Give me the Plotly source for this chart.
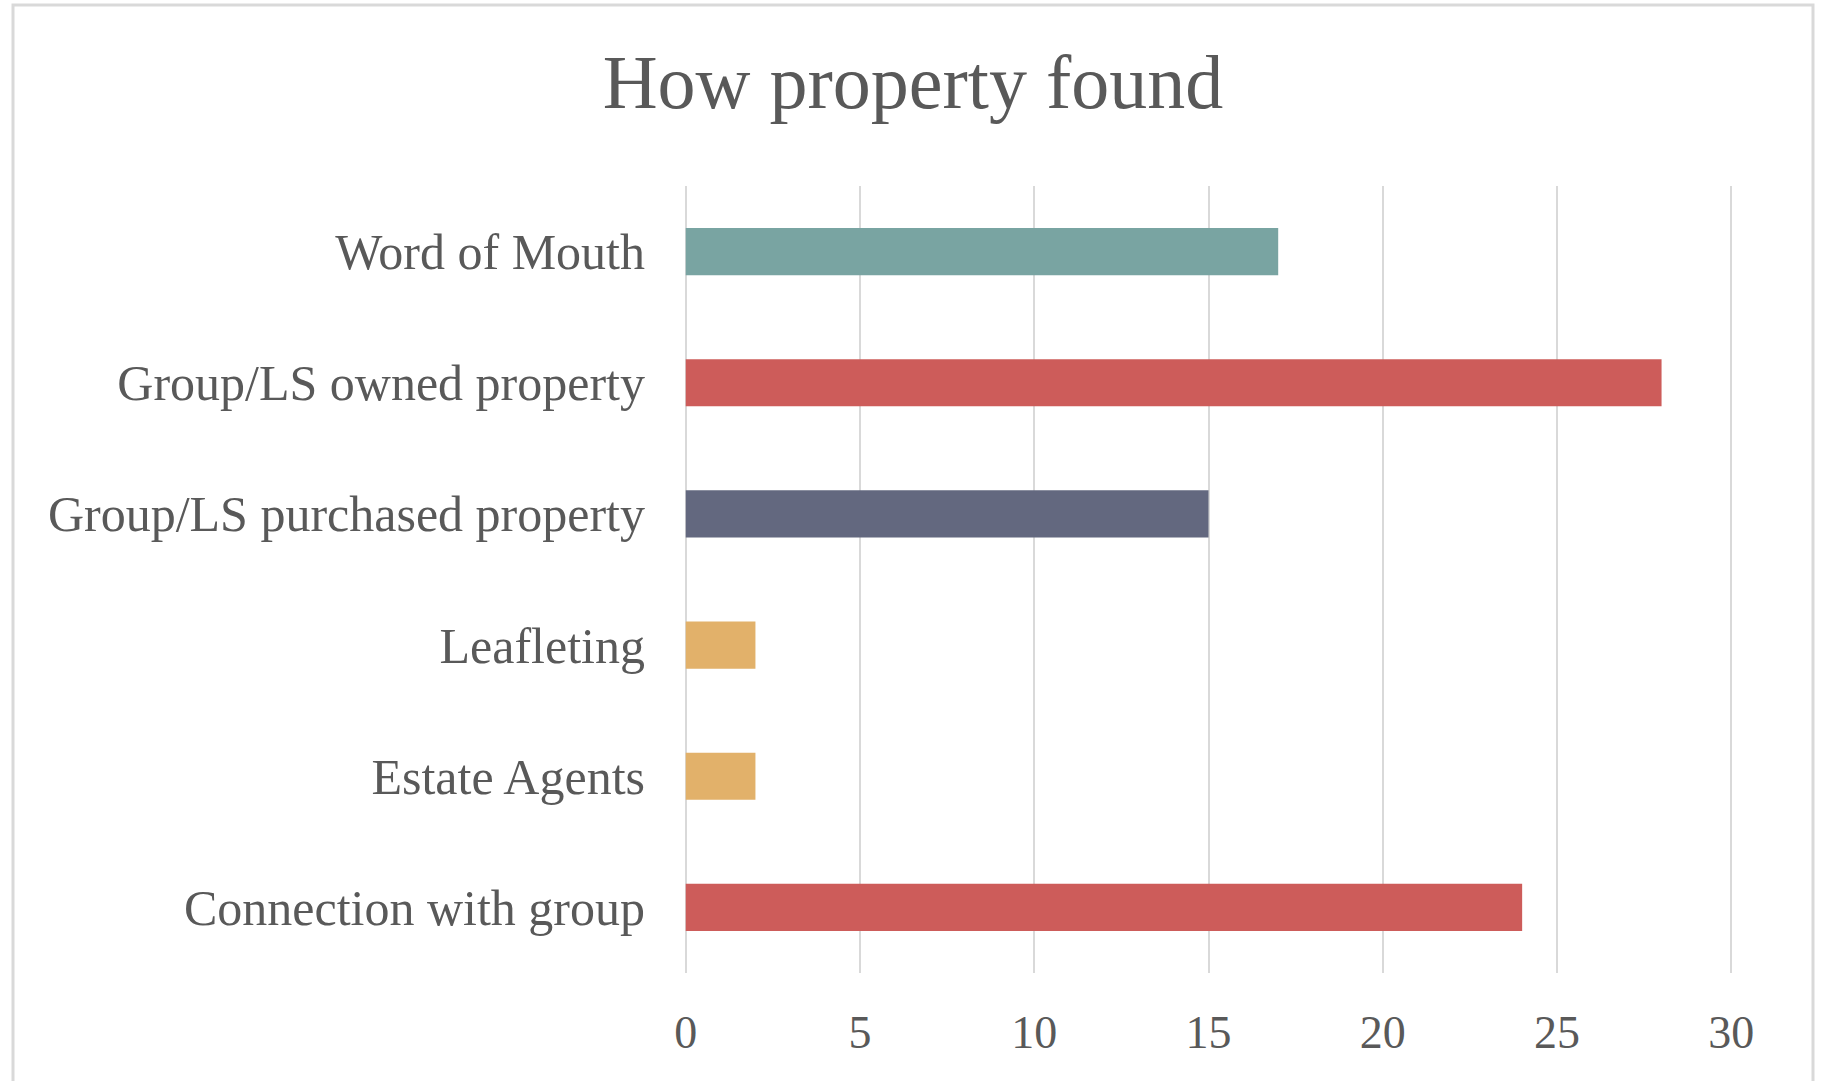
import plotly.graph_objects as go

categories = ["Word of Mouth", "Group/LS owned property", "Group/LS purchased property",
              "Leafleting", "Estate Agents", "Connection with group"]
values = [17, 28, 15, 2, 2, 24]
bar_colors = ["#79A4A2", "#CD5C5A", "#63687F", "#E2B16A", "#E2B16A", "#CD5C5A"]
x_ticks = [0, 5, 10, 15, 20, 25, 30]

FONT = "Liberation Serif"
TEXT = "#595959"
GRID = "#D9D9D9"

W, H = 1823, 1081
L, R, T, B = 684, 90, 186, 108

fig = go.Figure(go.Bar(
    x=values, y=categories, orientation="h",
    marker=dict(color=bar_colors, line=dict(width=0)),
    width=0.36, hoverinfo="x+y",
))

fig.update_layout(
    width=W, height=H,
    margin=dict(l=L, r=R, t=T, b=B, pad=0),
    paper_bgcolor="white", plot_bgcolor="white",
    showlegend=False,
    font=dict(family=FONT, color=TEXT),
    title=dict(text="How property found", x=913 / W, xanchor="center",
               y=1 - 81 / H, yanchor="middle",
               font=dict(family=FONT, size=76, color=TEXT)),
    xaxis=dict(range=[-0.05, 30.05], tickvals=x_ticks, showgrid=True, gridcolor=GRID,
               gridwidth=2, zeroline=False, showline=False, ticks="",
               tickfont=dict(family=FONT, size=46, color=TEXT),
               ticklabelstandoff=28, fixedrange=True),
    yaxis=dict(autorange="reversed", showgrid=False, zeroline=False, showline=False,
               ticks="", tickfont=dict(family=FONT, size=50, color=TEXT),
               ticklabelstandoff=38, fixedrange=True),
)

pw = W - L - R
ph = H - T - B
fig.add_shape(type="rect", xref="paper", yref="paper",
              x0=(13 - L) / pw, x1=(1813 - L) / pw,
              y0=(H - B - 1090) / ph, y1=(H - B - 5) / ph,
              line=dict(color=GRID, width=3), fillcolor="rgba(0,0,0,0)", layer="below")

fig.write_html("out.html")
